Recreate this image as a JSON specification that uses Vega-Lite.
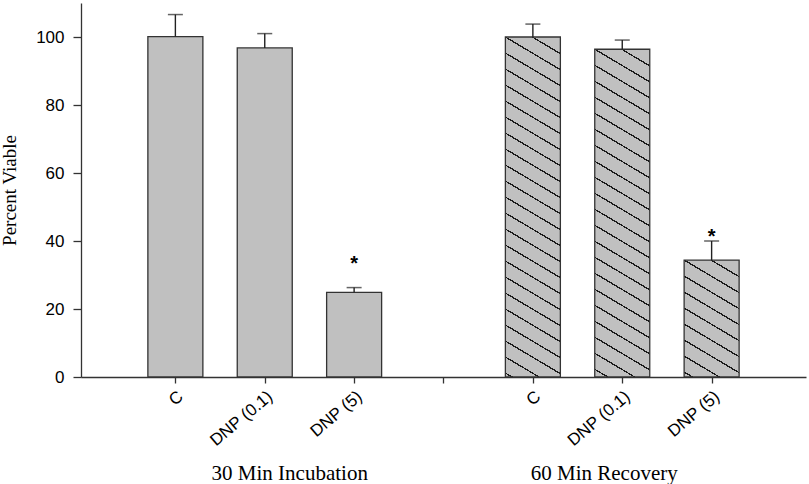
{
  "$schema": "https://vega.github.io/schema/vega-lite/v6.json",
  "width": 725,
  "height": 374,
  "padding": {"left": 0, "top": 3, "right": 4, "bottom": 0},
  "config": {"view": {"stroke": null}},
  "data": {
    "values": [
      {"group": "30 Min Incubation", "treatment": "C", "pos": 1, "mean": 100.1, "upper": 106.6},
      {"group": "30 Min Incubation", "treatment": "DNP (0.1)", "pos": 2, "mean": 96.8, "upper": 101.0},
      {"group": "30 Min Incubation", "treatment": "DNP (5)", "pos": 3, "mean": 24.9, "upper": 26.3, "sig": "*", "sig_y": 34.4},
      {"group": "60 Min Recovery", "treatment": "C", "pos": 5, "mean": 100.0, "upper": 103.8},
      {"group": "60 Min Recovery", "treatment": "DNP (0.1)", "pos": 6, "mean": 96.4, "upper": 99.1},
      {"group": "60 Min Recovery", "treatment": "DNP (5)", "pos": 7, "mean": 34.4, "upper": 40.0, "sig": "*", "sig_y": 42.4}
    ]
  },
  "encoding": {
    "x": {
      "field": "pos", "type": "quantitative",
      "scale": {"domain": [0, 8], "nice": false, "zero": false},
      "axis": {
        "title": null, "grid": false,
        "values": [1, 2, 3, 4, 5, 6, 7],
        "labelExpr": "datum.value==1||datum.value==5?'C':(datum.value==2||datum.value==6?'DNP (0.1)':(datum.value==3||datum.value==7?'DNP (5)':''))",
        "labelAngle": -40, "labelFont": "Liberation Sans", "labelFontSize": 17, "labelColor": "#000",
        "labelPadding": 5, "tickSize": 6, "tickColor": "#333", "domainColor": "#333", "tickWidth": 1.3, "domainWidth": 1.3
      }
    }
  },
  "layer": [
    {
      "transform": [{"filter": "datum.pos < 4"}],
      "mark": {"type": "bar", "width": 55, "fill": "#c0c0c0", "stroke": "#333", "strokeWidth": 1.3},
      "encoding": {
        "y": {
          "field": "mean", "type": "quantitative",
          "scale": {"domain": [0, 110], "nice": false},
          "axis": {
            "title": "Percent Viable", "titleFont": "Liberation Serif", "titleFontSize": 19, "titleFontWeight": "normal", "titleColor": "#000", "titlePadding": 16,
            "grid": false, "values": [0, 20, 40, 60, 80, 100],
            "labelFont": "Liberation Sans", "labelFontSize": 17, "labelColor": "#000", "labelPadding": 9,
            "tickSize": 8, "tickColor": "#333", "domainColor": "#333", "tickWidth": 1.3, "domainWidth": 1.3
          }
        }
      }
    },
    {
      "transform": [{"filter": "datum.pos == 5"}],
      "mark": {"type": "bar", "width": 55, "stroke": "#333", "strokeWidth": 1.3,
        "fill": {"gradient": "linear", "x1": 1, "y1": 0, "x2": 0.89564, "y2": 1.08606, "stops": [
          {"offset": 0.0427, "color": "#c0c0c0"}, {"offset": 0.0427, "color": "#1a1a1a"}, {"offset": 0.0467, "color": "#1a1a1a"}, {"offset": 0.0467, "color": "#c0c0c0"},
          {"offset": 0.0857, "color": "#c0c0c0"}, {"offset": 0.0857, "color": "#1a1a1a"}, {"offset": 0.0897, "color": "#1a1a1a"}, {"offset": 0.0897, "color": "#c0c0c0"},
          {"offset": 0.1286, "color": "#c0c0c0"}, {"offset": 0.1286, "color": "#1a1a1a"}, {"offset": 0.1326, "color": "#1a1a1a"}, {"offset": 0.1326, "color": "#c0c0c0"},
          {"offset": 0.1715, "color": "#c0c0c0"}, {"offset": 0.1715, "color": "#1a1a1a"}, {"offset": 0.1755, "color": "#1a1a1a"}, {"offset": 0.1755, "color": "#c0c0c0"},
          {"offset": 0.2145, "color": "#c0c0c0"}, {"offset": 0.2145, "color": "#1a1a1a"}, {"offset": 0.2185, "color": "#1a1a1a"}, {"offset": 0.2185, "color": "#c0c0c0"},
          {"offset": 0.2574, "color": "#c0c0c0"}, {"offset": 0.2574, "color": "#1a1a1a"}, {"offset": 0.2614, "color": "#1a1a1a"}, {"offset": 0.2614, "color": "#c0c0c0"},
          {"offset": 0.3003, "color": "#c0c0c0"}, {"offset": 0.3003, "color": "#1a1a1a"}, {"offset": 0.3043, "color": "#1a1a1a"}, {"offset": 0.3043, "color": "#c0c0c0"},
          {"offset": 0.3433, "color": "#c0c0c0"}, {"offset": 0.3433, "color": "#1a1a1a"}, {"offset": 0.3473, "color": "#1a1a1a"}, {"offset": 0.3473, "color": "#c0c0c0"},
          {"offset": 0.3862, "color": "#c0c0c0"}, {"offset": 0.3862, "color": "#1a1a1a"}, {"offset": 0.3902, "color": "#1a1a1a"}, {"offset": 0.3902, "color": "#c0c0c0"},
          {"offset": 0.4291, "color": "#c0c0c0"}, {"offset": 0.4291, "color": "#1a1a1a"}, {"offset": 0.4331, "color": "#1a1a1a"}, {"offset": 0.4331, "color": "#c0c0c0"},
          {"offset": 0.4721, "color": "#c0c0c0"}, {"offset": 0.4721, "color": "#1a1a1a"}, {"offset": 0.4761, "color": "#1a1a1a"}, {"offset": 0.4761, "color": "#c0c0c0"},
          {"offset": 0.5150, "color": "#c0c0c0"}, {"offset": 0.5150, "color": "#1a1a1a"}, {"offset": 0.5190, "color": "#1a1a1a"}, {"offset": 0.5190, "color": "#c0c0c0"},
          {"offset": 0.5579, "color": "#c0c0c0"}, {"offset": 0.5579, "color": "#1a1a1a"}, {"offset": 0.5619, "color": "#1a1a1a"}, {"offset": 0.5619, "color": "#c0c0c0"},
          {"offset": 0.6009, "color": "#c0c0c0"}, {"offset": 0.6009, "color": "#1a1a1a"}, {"offset": 0.6049, "color": "#1a1a1a"}, {"offset": 0.6049, "color": "#c0c0c0"},
          {"offset": 0.6438, "color": "#c0c0c0"}, {"offset": 0.6438, "color": "#1a1a1a"}, {"offset": 0.6478, "color": "#1a1a1a"}, {"offset": 0.6478, "color": "#c0c0c0"},
          {"offset": 0.6867, "color": "#c0c0c0"}, {"offset": 0.6867, "color": "#1a1a1a"}, {"offset": 0.6907, "color": "#1a1a1a"}, {"offset": 0.6907, "color": "#c0c0c0"},
          {"offset": 0.7297, "color": "#c0c0c0"}, {"offset": 0.7297, "color": "#1a1a1a"}, {"offset": 0.7337, "color": "#1a1a1a"}, {"offset": 0.7337, "color": "#c0c0c0"},
          {"offset": 0.7726, "color": "#c0c0c0"}, {"offset": 0.7726, "color": "#1a1a1a"}, {"offset": 0.7766, "color": "#1a1a1a"}, {"offset": 0.7766, "color": "#c0c0c0"},
          {"offset": 0.8155, "color": "#c0c0c0"}, {"offset": 0.8155, "color": "#1a1a1a"}, {"offset": 0.8195, "color": "#1a1a1a"}, {"offset": 0.8195, "color": "#c0c0c0"},
          {"offset": 0.8585, "color": "#c0c0c0"}, {"offset": 0.8585, "color": "#1a1a1a"}, {"offset": 0.8625, "color": "#1a1a1a"}, {"offset": 0.8625, "color": "#c0c0c0"},
          {"offset": 0.9014, "color": "#c0c0c0"}, {"offset": 0.9014, "color": "#1a1a1a"}, {"offset": 0.9054, "color": "#1a1a1a"}, {"offset": 0.9054, "color": "#c0c0c0"},
          {"offset": 0.9443, "color": "#c0c0c0"}, {"offset": 0.9443, "color": "#1a1a1a"}, {"offset": 0.9483, "color": "#1a1a1a"}, {"offset": 0.9483, "color": "#c0c0c0"},
          {"offset": 0.9873, "color": "#c0c0c0"}, {"offset": 0.9873, "color": "#1a1a1a"}, {"offset": 0.9913, "color": "#1a1a1a"}, {"offset": 0.9913, "color": "#c0c0c0"}
        ]}
      },
      "encoding": {"y": {"field": "mean", "type": "quantitative"}}
    },
    {
      "transform": [{"filter": "datum.pos == 6"}],
      "mark": {"type": "bar", "width": 55, "stroke": "#333", "strokeWidth": 1.3,
        "fill": {"gradient": "linear", "x1": 1, "y1": 0, "x2": 0.891466, "y2": 1.088859, "stops": [
          {"offset": 0.0442, "color": "#c0c0c0"}, {"offset": 0.0442, "color": "#1a1a1a"}, {"offset": 0.0484, "color": "#1a1a1a"}, {"offset": 0.0484, "color": "#c0c0c0"},
          {"offset": 0.0885, "color": "#c0c0c0"}, {"offset": 0.0885, "color": "#1a1a1a"}, {"offset": 0.0927, "color": "#1a1a1a"}, {"offset": 0.0927, "color": "#c0c0c0"},
          {"offset": 0.1329, "color": "#c0c0c0"}, {"offset": 0.1329, "color": "#1a1a1a"}, {"offset": 0.1371, "color": "#1a1a1a"}, {"offset": 0.1371, "color": "#c0c0c0"},
          {"offset": 0.1773, "color": "#c0c0c0"}, {"offset": 0.1773, "color": "#1a1a1a"}, {"offset": 0.1815, "color": "#1a1a1a"}, {"offset": 0.1815, "color": "#c0c0c0"},
          {"offset": 0.2217, "color": "#c0c0c0"}, {"offset": 0.2217, "color": "#1a1a1a"}, {"offset": 0.2259, "color": "#1a1a1a"}, {"offset": 0.2259, "color": "#c0c0c0"},
          {"offset": 0.2661, "color": "#c0c0c0"}, {"offset": 0.2661, "color": "#1a1a1a"}, {"offset": 0.2703, "color": "#1a1a1a"}, {"offset": 0.2703, "color": "#c0c0c0"},
          {"offset": 0.3105, "color": "#c0c0c0"}, {"offset": 0.3105, "color": "#1a1a1a"}, {"offset": 0.3147, "color": "#1a1a1a"}, {"offset": 0.3147, "color": "#c0c0c0"},
          {"offset": 0.3549, "color": "#c0c0c0"}, {"offset": 0.3549, "color": "#1a1a1a"}, {"offset": 0.3591, "color": "#1a1a1a"}, {"offset": 0.3591, "color": "#c0c0c0"},
          {"offset": 0.3993, "color": "#c0c0c0"}, {"offset": 0.3993, "color": "#1a1a1a"}, {"offset": 0.4035, "color": "#1a1a1a"}, {"offset": 0.4035, "color": "#c0c0c0"},
          {"offset": 0.4437, "color": "#c0c0c0"}, {"offset": 0.4437, "color": "#1a1a1a"}, {"offset": 0.4479, "color": "#1a1a1a"}, {"offset": 0.4479, "color": "#c0c0c0"},
          {"offset": 0.4881, "color": "#c0c0c0"}, {"offset": 0.4881, "color": "#1a1a1a"}, {"offset": 0.4923, "color": "#1a1a1a"}, {"offset": 0.4923, "color": "#c0c0c0"},
          {"offset": 0.5325, "color": "#c0c0c0"}, {"offset": 0.5325, "color": "#1a1a1a"}, {"offset": 0.5367, "color": "#1a1a1a"}, {"offset": 0.5367, "color": "#c0c0c0"},
          {"offset": 0.5768, "color": "#c0c0c0"}, {"offset": 0.5768, "color": "#1a1a1a"}, {"offset": 0.5810, "color": "#1a1a1a"}, {"offset": 0.5810, "color": "#c0c0c0"},
          {"offset": 0.6212, "color": "#c0c0c0"}, {"offset": 0.6212, "color": "#1a1a1a"}, {"offset": 0.6254, "color": "#1a1a1a"}, {"offset": 0.6254, "color": "#c0c0c0"},
          {"offset": 0.6656, "color": "#c0c0c0"}, {"offset": 0.6656, "color": "#1a1a1a"}, {"offset": 0.6698, "color": "#1a1a1a"}, {"offset": 0.6698, "color": "#c0c0c0"},
          {"offset": 0.7100, "color": "#c0c0c0"}, {"offset": 0.7100, "color": "#1a1a1a"}, {"offset": 0.7142, "color": "#1a1a1a"}, {"offset": 0.7142, "color": "#c0c0c0"},
          {"offset": 0.7544, "color": "#c0c0c0"}, {"offset": 0.7544, "color": "#1a1a1a"}, {"offset": 0.7586, "color": "#1a1a1a"}, {"offset": 0.7586, "color": "#c0c0c0"},
          {"offset": 0.7988, "color": "#c0c0c0"}, {"offset": 0.7988, "color": "#1a1a1a"}, {"offset": 0.8030, "color": "#1a1a1a"}, {"offset": 0.8030, "color": "#c0c0c0"},
          {"offset": 0.8432, "color": "#c0c0c0"}, {"offset": 0.8432, "color": "#1a1a1a"}, {"offset": 0.8474, "color": "#1a1a1a"}, {"offset": 0.8474, "color": "#c0c0c0"},
          {"offset": 0.8876, "color": "#c0c0c0"}, {"offset": 0.8876, "color": "#1a1a1a"}, {"offset": 0.8918, "color": "#1a1a1a"}, {"offset": 0.8918, "color": "#c0c0c0"},
          {"offset": 0.9320, "color": "#c0c0c0"}, {"offset": 0.9320, "color": "#1a1a1a"}, {"offset": 0.9362, "color": "#1a1a1a"}, {"offset": 0.9362, "color": "#c0c0c0"},
          {"offset": 0.9764, "color": "#c0c0c0"}, {"offset": 0.9764, "color": "#1a1a1a"}, {"offset": 0.9806, "color": "#1a1a1a"}, {"offset": 0.9806, "color": "#c0c0c0"}
        ]}
      },
      "encoding": {"y": {"field": "mean", "type": "quantitative"}}
    },
    {
      "transform": [{"filter": "datum.pos == 7"}],
      "mark": {"type": "bar", "width": 55, "stroke": "#333", "strokeWidth": 1.3,
        "fill": {"gradient": "linear", "x1": 1, "y1": 0, "x2": 0.668513, "y2": 1.186736, "stops": [
          {"offset": 0.1064, "color": "#c0c0c0"}, {"offset": 0.1064, "color": "#1a1a1a"}, {"offset": 0.1164, "color": "#1a1a1a"}, {"offset": 0.1164, "color": "#c0c0c0"},
          {"offset": 0.2133, "color": "#c0c0c0"}, {"offset": 0.2133, "color": "#1a1a1a"}, {"offset": 0.2233, "color": "#1a1a1a"}, {"offset": 0.2233, "color": "#c0c0c0"},
          {"offset": 0.3203, "color": "#c0c0c0"}, {"offset": 0.3203, "color": "#1a1a1a"}, {"offset": 0.3303, "color": "#1a1a1a"}, {"offset": 0.3303, "color": "#c0c0c0"},
          {"offset": 0.4272, "color": "#c0c0c0"}, {"offset": 0.4272, "color": "#1a1a1a"}, {"offset": 0.4372, "color": "#1a1a1a"}, {"offset": 0.4372, "color": "#c0c0c0"},
          {"offset": 0.5341, "color": "#c0c0c0"}, {"offset": 0.5341, "color": "#1a1a1a"}, {"offset": 0.5441, "color": "#1a1a1a"}, {"offset": 0.5441, "color": "#c0c0c0"},
          {"offset": 0.6411, "color": "#c0c0c0"}, {"offset": 0.6411, "color": "#1a1a1a"}, {"offset": 0.6511, "color": "#1a1a1a"}, {"offset": 0.6511, "color": "#c0c0c0"},
          {"offset": 0.7480, "color": "#c0c0c0"}, {"offset": 0.7480, "color": "#1a1a1a"}, {"offset": 0.7580, "color": "#1a1a1a"}, {"offset": 0.7580, "color": "#c0c0c0"},
          {"offset": 0.8549, "color": "#c0c0c0"}, {"offset": 0.8549, "color": "#1a1a1a"}, {"offset": 0.8649, "color": "#1a1a1a"}, {"offset": 0.8649, "color": "#c0c0c0"},
          {"offset": 0.9618, "color": "#c0c0c0"}, {"offset": 0.9618, "color": "#1a1a1a"}, {"offset": 0.9718, "color": "#1a1a1a"}, {"offset": 0.9718, "color": "#c0c0c0"}
        ]}
      },
      "encoding": {"y": {"field": "mean", "type": "quantitative"}}
    },
    {
      "mark": {"type": "rule", "color": "#222", "strokeWidth": 1.4},
      "encoding": {"y": {"field": "mean", "type": "quantitative"}, "y2": {"field": "upper"}}
    },
    {
      "mark": {"type": "tick", "orient": "horizontal", "size": 15, "thickness": 1.5, "color": "#222"},
      "encoding": {"y": {"field": "upper", "type": "quantitative"}}
    },
    {
      "transform": [{"filter": "datum.sig"}],
      "mark": {"type": "text", "font": "Liberation Sans", "fontSize": 20, "fontWeight": "bold", "baseline": "middle", "dy": 4, "color": "#000"},
      "encoding": {"y": {"field": "sig_y", "type": "quantitative"}, "text": {"field": "sig"}}
    },
    {
      "data": {"values": [{"label": "30 Min Incubation", "mid": 2}]},
      "mark": {"type": "text", "font": "Liberation Serif", "fontSize": 21, "baseline": "alphabetic", "align": "center", "dx": 25, "color": "#000"},
      "encoding": {"x": {"field": "mid", "type": "quantitative"}, "y": {"datum": -30.3, "type": "quantitative"}, "text": {"field": "label"}}
    },
    {
      "data": {"values": [{"label": "60 Min Recovery", "mid": 6}]},
      "mark": {"type": "text", "font": "Liberation Serif", "fontSize": 21, "baseline": "alphabetic", "align": "center", "dx": -18, "color": "#000"},
      "encoding": {"x": {"field": "mid", "type": "quantitative"}, "y": {"datum": -30.3, "type": "quantitative"}, "text": {"field": "label"}}
    }
  ]
}
